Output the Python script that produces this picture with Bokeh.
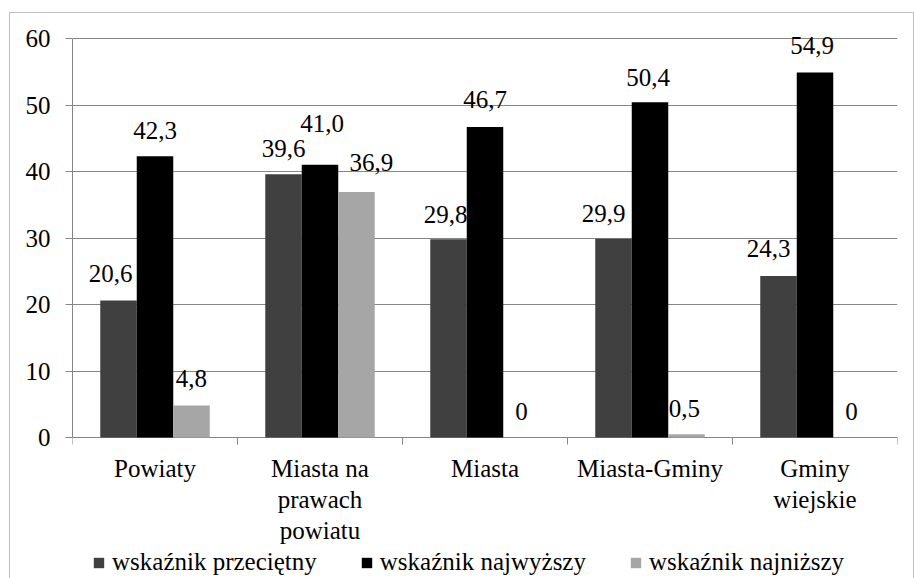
from bokeh.plotting import figure
from bokeh.models import (ColumnDataSource, FactorRange, Range1d, FixedTicker,
                          Legend, LegendItem, LabelSet)
from bokeh.core.properties import value
from bokeh.transform import dodge
from bokeh.embed import file_html
from bokeh.resources import INLINE

# ---- data ----
categories = ["Powiaty", "Miasta na prawach powiatu", "Miasta", "Miasta-Gminy", "Gminy wiejskie"]
category_lines = [["Powiaty", "Miasta na", "Miasta", "Miasta-Gminy", "Gminy"],
                  ["", "prawach", "", "", "wiejskie"],
                  ["", "powiatu", "", "", ""]]
series_names = ["wskaźnik przeciętny", "wskaźnik najwyższy", "wskaźnik najniższy"]
przecietny = [20.6, 39.6, 29.8, 29.9, 24.3]
najwyzszy = [42.3, 41.0, 46.7, 50.4, 54.9]
najnizszy = [4.8, 36.9, 0, 0.5, 0]
y_ticks = [0, 10, 20, 30, 40, 50, 60]
Y_MIN, Y_MAX = 0, 60

# ---- styles / layout ----
FONT = "Liberation Serif"
FS = "25px"
series_colors = ["#404040", "#000000", "#a6a6a6"]
GRID = "#868686"
BAR_W = 0.2212
series_shift = [-BAR_W, 0.0, BAR_W]
W, H = 914, 578
LEFT, RIGHT, TOP = 72, 17, 14
AXIS_TOP_PX, AXIS_BOTTOM_PX = 38, 437      # screen rows of 60 and 0
PX_PER_UNIT = (AXIS_BOTTOM_PX - AXIS_TOP_PX) / (Y_MAX - Y_MIN)
TICK_PX = 7
LINE_PX = 31
# label placement (pixel offsets from the bar top centre)
label_dx = [[-8, 0, -3, -10, -10], [0, 2, 0, -2, -3], [0, 15, 0, -2, 0]]
label_dy = [[27, 26, 25, 25, 27], [26, 41, 27, 25, 27], [27, 30, 26, 26, 26]]


def fmt(v):
    return "0" if v == 0 else f"{v:.1f}".replace(".", ",")


y_lo = Y_MIN - (H - AXIS_BOTTOM_PX) / PX_PER_UNIT
y_hi = Y_MAX + (AXIS_TOP_PX - TOP) / PX_PER_UNIT

p = figure(x_range=FactorRange(factors=categories, range_padding=0), y_range=Range1d(y_lo, y_hi),
           width=W, height=H, output_backend="svg", toolbar_location=None,
           x_axis_location=None, min_border_left=LEFT, min_border_right=RIGHT,
           min_border_top=TOP, min_border_bottom=0)
p.outline_line_color = None
p.background_fill_color = None
p.border_fill_color = None
p.styles = {"background-color": "white",
            "box-shadow": "inset 9px 12px 0 0 #ffffff, inset 10px 13px 0 0 #c0c0c0, "
                          "inset -1px 0 0 0 #c0c0c0"}
p.xgrid.grid_line_color = None

# y axis (only spans 0..60)
p.yaxis.bounds = (Y_MIN, Y_MAX)
p.yaxis.ticker = FixedTicker(ticks=y_ticks)
p.yaxis.axis_line_color = GRID
p.yaxis.major_tick_line_color = GRID
p.yaxis.major_tick_out = TICK_PX
p.yaxis.major_tick_in = 0
p.yaxis.minor_tick_line_color = None
p.yaxis.major_label_standoff = 15
p.yaxis.major_label_text_font = FONT
p.yaxis.major_label_text_font_size = FS
p.yaxis.major_label_text_color = "black"
p.ygrid.ticker = FixedTicker(ticks=y_ticks)
p.ygrid.grid_line_color = GRID

# category boundary ticks under the zero line
edges = list(range(len(categories) + 1))
p.segment(x0=edges, x1=edges, y0=[Y_MIN] * len(edges),
          y1=[Y_MIN - TICK_PX / PX_PER_UNIT] * len(edges), line_color=GRID, line_width=1)

# category labels, one row per text line
for j, lines in enumerate(category_lines):
    cats = [c for c, t in zip(categories, lines) if t]
    txts = [t for t in lines if t]
    src = ColumnDataSource(dict(cat=cats, y=[Y_MIN] * len(cats), txt=txts))
    p.add_layout(LabelSet(x="cat", y="y", text="txt", source=src,
                          y_offset=-(LINE_PX * (j + 1)), text_align="center",
                          text_baseline="middle", text_font=value(FONT),
                          text_font_size=value(FS), text_color="black"))

# bars + value labels
series_values = [przecietny, najwyzszy, najnizszy]
items = []
for k, (name, vals) in enumerate(zip(series_names, series_values)):
    src = ColumnDataSource(dict(cat=categories, val=vals, txt=[fmt(v) for v in vals],
                                dx=label_dx[k], dy=label_dy[k]))
    r = p.vbar(x=dodge("cat", series_shift[k], range=p.x_range), top="val", width=BAR_W,
               source=src, fill_color=series_colors[k], line_color=None)
    items.append(LegendItem(label=name, renderers=[r]))
    p.add_layout(LabelSet(x=dodge("cat", series_shift[k], range=p.x_range), y="val",
                          text="txt", x_offset="dx", y_offset="dy", source=src,
                          text_align="center", text_baseline="middle",
                          text_font=value(FONT), text_font_size=value(FS),
                          text_color="black"))

legend = Legend(items=items, location=(20, 2), orientation="horizontal",
                glyph_width=13, glyph_height=13, label_standoff=7, spacing=43,
                padding=0, margin=0, border_line_color=None, background_fill_alpha=0,
                label_text_font=FONT, label_text_font_size=FS, label_text_color="black")
p.add_layout(legend, "center")

open("out.html", "w").write(file_html(p, INLINE))
